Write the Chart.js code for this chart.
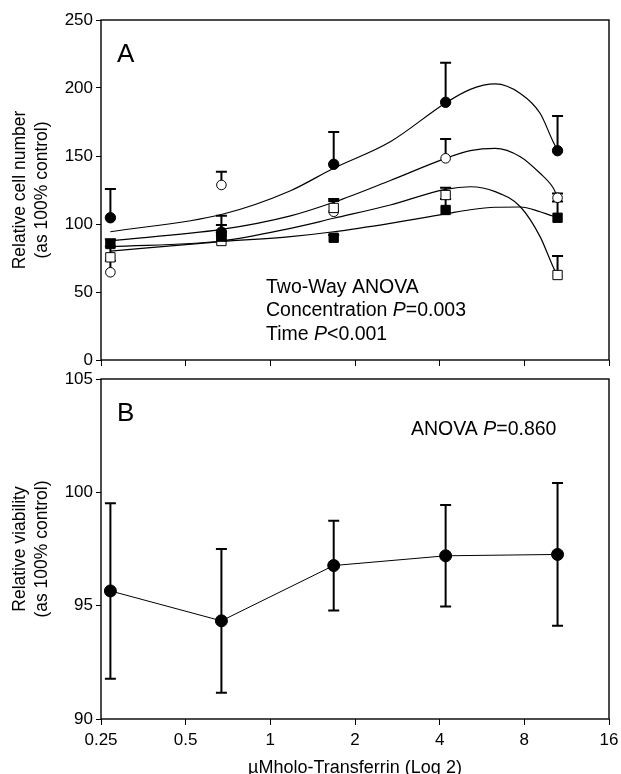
<!DOCTYPE html>
<html>
<head>
<meta charset="utf-8">
<script src="https://cdn.jsdelivr.net/npm/chart.js@4.4.0/dist/chart.umd.min.js"></script>
<style>
  html, body { margin: 0; padding: 0; background: #fff; }
  #wrap { position: relative; width: 621px; height: 774px; overflow: hidden; }
  canvas { position: absolute; left: 0; }
  #panelA { top: 0; }
  #panelB { top: 360px; }
</style>
</head>
<body>
<div id="wrap">
  <canvas id="panelA" width="621" height="380"></canvas>
  <canvas id="panelB" width="621" height="414"></canvas>
</div>
<script>
// Holo-transferrin concentrations (µM) and axis ticks
const concentrations = [0.27, 0.67, 1.68, 4.2, 10.5];
const xTicks = [0.25, 0.5, 1, 2, 4, 8, 16];
const yTicksA = [0, 50, 100, 150, 200, 250];
const yTicksB = [90, 95, 100, 105];

// Panel A: relative cell number, group means and upper SE
const filledCircleMean = [104.6, 94, 143.9, 189.5, 153.9];
const filledCircleSE   = [21.1, 12, 23.7, 29.1, 25.5];
const openCircleMean   = [64.5, 128.7, 109, 148.3, 119.3];
const openCircleSE     = [8.5, 9.8, 8, 14.2, 3.2];
const openSquareMean   = [75.5, 87.5, 111.8, 121.3, 62.5];
const openSquareSE     = [8, 4, 6.5, 5.4, 14];
const filledSquareMean = [85.3, 90.7, 89.9, 110.3, 104.6];
const filledSquareSE   = [3.4, 8.6, 2, 8, 12];

// Panel A: fitted trend curves for each group
const fitX            = [0.27, 0.67, 1.18, 1.68, 2.67, 4.2, 5.14, 6.3, 7.74, 9.1, 10.1, 10.5];
const fitFilledCircle = [94.3, 107, 124.5, 141, 160.5, 189, 199, 203, 196, 181.4, 161, 154];
const fitOpenCircle   = [87.7, 96, 106, 116, 132, 148.3, 153.9, 155.6, 149.5, 137.3, 127, 120];
const fitOpenSquare   = [83.3, 87.5, 96.8, 104.2, 114, 125.5, 127.4, 123.8, 112.7, 90.7, 69, 62];
const fitFilledSquare = [80.1, 87, 90.7, 94.3, 100.5, 107.4, 110.5, 112.3, 112.5, 109, 105.9, 105.4];

// Panel B: relative viability, mean and SD
const viabilityMean = [95.65, 94.33, 96.77, 97.2, 97.26];
const viabilitySD   = [3.87, 3.17, 1.98, 2.24, 3.15];

const FONT = "'Liberation Sans', Arial, Helvetica, sans-serif";
Chart.defaults.font.family = FONT;
Chart.defaults.color = '#000';

const pts = (xs, ys) => xs.map((x, i) => ({ x, y: ys[i] }));

// Error bars: stem from the mean, capped ends
const errorBars = {
  id: 'errorBars',
  beforeDatasetsDraw(chart) {
    const { ctx, scales: { x, y } } = chart;
    chart.data.datasets.forEach(ds => {
      if (!ds.errPlus) return;
      ctx.save();
      ctx.strokeStyle = '#000';
      ctx.lineWidth = 2;
      ds.data.forEach((p, j) => {
        const px = x.getPixelForValue(p.x);
        const top = y.getPixelForValue(p.y + ds.errPlus[j]);
        const bot = y.getPixelForValue(p.y - (ds.errMinus ? ds.errMinus[j] : 0));
        ctx.beginPath();
        ctx.moveTo(px, bot); ctx.lineTo(px, top);
        ctx.moveTo(px - 5.5, top); ctx.lineTo(px + 5.5, top);
        if (ds.errMinus) { ctx.moveTo(px - 5.5, bot); ctx.lineTo(px + 5.5, bot); }
        ctx.stroke();
      });
      ctx.restore();
    });
  }
};

// Frame around the plot area
const frame = {
  id: 'frame',
  afterDatasetsDraw(chart) {
    const { ctx, chartArea: a } = chart;
    ctx.save();
    ctx.strokeStyle = '#000';
    ctx.lineWidth = 1.4;
    ctx.strokeRect(a.left, a.top, a.right - a.left, a.bottom - a.top);
    ctx.restore();
  }
};

// Draws a run of text pieces, some italic, from a left x
function drawRuns(ctx, runs, x, y, size) {
  let cx = x;
  runs.forEach(([t, italic]) => {
    ctx.font = (italic ? 'italic ' : '') + size + 'px ' + FONT;
    ctx.fillText(t, cx, y);
    cx += ctx.measureText(t).width;
  });
}

// Axis titles, panel letter and statistics note
function annotations(cfg) {
  return {
    id: 'annotations',
    afterDraw(chart) {
      const { ctx, chartArea: a } = chart;
      ctx.save();
      ctx.fillStyle = '#000';
      ctx.textAlign = 'left';
      ctx.textBaseline = 'alphabetic';
      ctx.font = '26px ' + FONT;
      ctx.fillText(cfg.letter, 117, cfg.letterY);
      cfg.notes.forEach(n => drawRuns(ctx, n.runs, n.x, n.y, 19.5));
      // rotated y title
      const cy = (a.top + a.bottom) / 2;
      ctx.font = '17.5px ' + FONT;
      ctx.textAlign = 'center';
      ctx.textBaseline = 'middle';
      cfg.yTitle.forEach((line, i) => {
        ctx.save();
        ctx.translate(i === 0 ? 20 : 42, cy);
        ctx.rotate(-Math.PI / 2);
        ctx.fillText(line, 0, 0);
        ctx.restore();
      });
      if (cfg.xTitle) {
        ctx.font = '18px ' + FONT;
        ctx.fillText(cfg.xTitle, (a.left + a.right) / 2, cfg.xTitleY);
      }
      ctx.restore();
    }
  };
}

function scalesFor(yMin, yMax, yTicks, showX, xHeight) {
  return {
    x: {
      type: 'logarithmic', min: 0.25, max: 16,
      afterBuildTicks: s => { s.ticks = xTicks.map(v => ({ value: v })); },
      ticks: { display: showX, autoSkip: false, maxRotation: 0, padding: 5,
               font: { size: 17 }, color: '#000', callback: v => String(v) },
      grid: { drawOnChartArea: false, drawTicks: true, tickLength: 6, color: '#000', lineWidth: 1 },
      border: { display: false },
      afterFit: s => { s.height = xHeight; s.paddingLeft = 0; s.paddingRight = 0; }
    },
    y: {
      min: yMin, max: yMax,
      afterBuildTicks: s => { s.ticks = yTicks.map(v => ({ value: v })); },
      ticks: { padding: 3, font: { size: 17 }, color: '#000' },
      grid: { drawOnChartArea: false, drawTicks: true, tickLength: 5, color: '#000', lineWidth: 1 },
      border: { display: false },
      afterFit: s => { s.width = 101; s.paddingTop = 0; s.paddingBottom = 0; }
    }
  };
}

const curve = (ys) => ({
  type: 'line', data: pts(fitX, ys), borderColor: '#000', borderWidth: 1.2,
  pointRadius: 0, cubicInterpolationMode: 'monotone', fill: false, order: 10
});
const markers = (ys, se, style, r, fill, order) => ({
  type: 'scatter', data: pts(concentrations, ys), errPlus: se, showLine: false,
  pointStyle: style, pointRadius: r, pointHoverRadius: r,
  backgroundColor: fill, borderColor: '#000', borderWidth: 1, order
});

new Chart(document.getElementById('panelA'), {
  type: 'scatter',
  data: {
    datasets: [
      curve(fitFilledCircle),
      curve(fitOpenCircle),
      curve(fitOpenSquare),
      curve(fitFilledSquare),
      markers(openCircleMean, openCircleSE, 'circle', 4.8, '#fff', 5),
      markers(openSquareMean, openSquareSE, 'rect', 6.6, '#fff', 4),
      markers(filledSquareMean, filledSquareSE, 'rect', 6.6, '#000', 3),
      markers(filledCircleMean, filledCircleSE, 'circle', 5.2, '#000', 2)
    ]
  },
  options: {
    responsive: false, animation: false, devicePixelRatio: 1,
    layout: { padding: { left: 0, right: 12, top: 20, bottom: 0 } },
    plugins: { legend: { display: false }, tooltip: { enabled: false } },
    scales: scalesFor(0, 250, yTicksA, false, 20)
  },
  plugins: [errorBars, frame, annotations({
    letter: 'A', letterY: 62,
    notes: [
      { x: 266, y: 293, runs: [['Two-Way ANOVA', false]] },
      { x: 266, y: 316, runs: [['Concentration ', false], ['P', true], ['=0.003', false]] },
      { x: 266, y: 339.5, runs: [['Time ', false], ['P', true], ['<0.001', false]] }
    ],
    yTitle: ['Relative cell number', '(as 100% control)']
  })]
});

new Chart(document.getElementById('panelB'), {
  type: 'scatter',
  data: {
    datasets: [{
      type: 'line', data: pts(concentrations, viabilityMean),
      errPlus: viabilitySD, errMinus: viabilitySD,
      borderColor: '#000', borderWidth: 1, tension: 0,
      pointStyle: 'circle', pointRadius: 6, pointHoverRadius: 6,
      backgroundColor: '#000', pointBackgroundColor: '#000', fill: false
    }]
  },
  options: {
    responsive: false, animation: false, devicePixelRatio: 1,
    layout: { padding: { left: 0, right: 12, top: 19, bottom: 0 } },
    plugins: { legend: { display: false }, tooltip: { enabled: false } },
    scales: scalesFor(90, 105, yTicksB, true, 55)
  },
  plugins: [errorBars, frame, annotations({
    letter: 'B', letterY: 61,
    notes: [
      { x: 411, y: 75, runs: [['ANOVA ', false], ['P', true], ['=0.860', false]] }
    ],
    yTitle: ['Relative viability', '(as 100% control)'],
    xTitle: 'µMholo-Transferrin (Log 2)', xTitleY: 408
  })]
});
</script>
</body>
</html>
